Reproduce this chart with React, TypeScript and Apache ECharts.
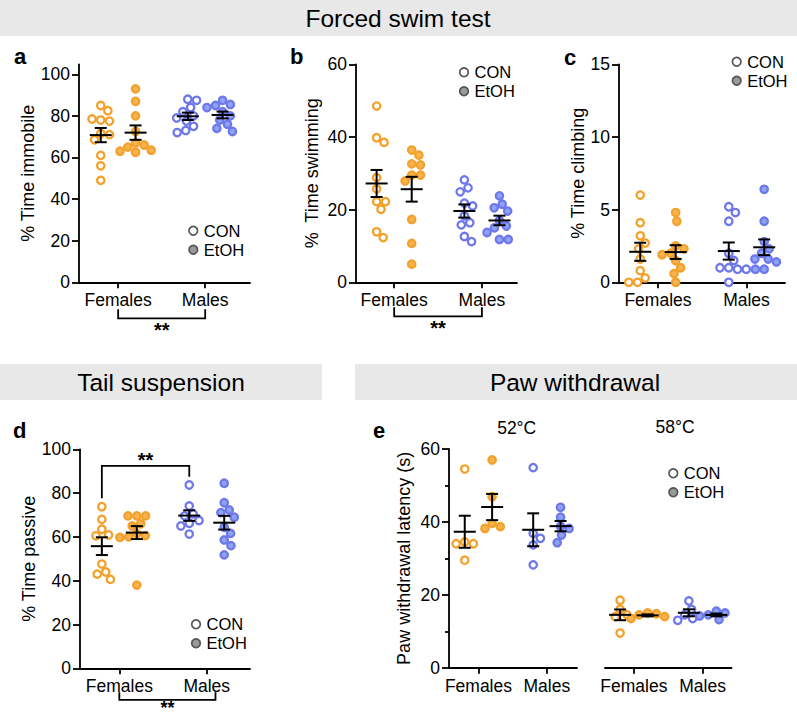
import React, { useEffect, useRef } from "react";
import * as echarts from "echarts";

// ---------- texts ----------
const sexLabels = ["Females", "Males"];
const legendLabels = ["CON", "EtOH"];
const headers = ["Forced swim test", "Tail suspension", "Paw withdrawal"];
const tempLabels = ["52°C", "58°C"];
const panelLetters = ["a", "b", "c", "d", "e"];

// ---------- tick values ----------
const ticksPercent = [0, 20, 40, 60, 80, 100];
const ticksSwim = [0, 20, 40, 60];
const ticksClimb = [0, 5, 10, 15];
const ticksPaw = [0, 20, 40, 60];
const sexTickValues = [1, 3];

// ---------- data (a) % time immobile ----------
const immobileFemCon = [85, 82.5, 78, 77.5, 78.5, 71.5, 71, 68.5, 61, 56, 49];
const immobileFemEtoh = [93, 87, 80, 72.5, 67, 66, 65, 63.5, 63, 62.5];
const immobileMaleCon = [88, 87.5, 84, 82, 80, 79, 77.5, 75, 73, 72];
const immobileMaleEtoh = [87.5, 85.5, 85, 84, 82, 80, 78, 76, 74, 72.5];
// ---------- data (b) % time swimming ----------
const swimFemCon = [48.5, 39.8, 38.5, 28.8, 25.7, 22.2, 22.2, 20.1, 13.9, 12.3];
const swimFemEtoh = [36.4, 35.0, 32.6, 32.3, 29.5, 29.5, 27.9, 17.3, 10.7, 5.0];
const swimMaleCon = [28.2, 26, 24.9, 21.8, 21, 18.3, 16.4, 15.8, 12.6, 11.2];
const swimMaleEtoh = [23.8, 21.5, 20.5, 19.6, 17.0, 15.5, 15.0, 13.7, 11.8, 11.8];
// ---------- data (c) % time climbing ----------
const climbFemCon = [6.0, 4.1, 3.2, 2.7, 2.3, 1.6, 0.8, 0.3, 0, 0];
const climbFemEtoh = [4.8, 4.2, 2.5, 2.3, 2.0, 1.9, 1.5, 1.0, 0.6, 0];
const climbMaleCon = [5.2, 4.8, 4.2, 2.0, 1.5, 1.0, 1.0, 0.9, 0.9, 0];
const climbMaleEtoh = [6.4, 4.2, 2.8, 2.3, 2.0, 1.6, 1.6, 1.4, 0.9, 0.9];
// ---------- data (d) % time passive ----------
const passiveFemCon = [73.8, 68, 63.5, 60.9, 60.5, 47.6, 44, 43, 40.6];
const passiveFemEtoh = [69.6, 69.6, 69.6, 66, 65, 61.5, 60.6, 60, 59.8, 38];
const passiveMaleCon = [83.7, 74.1, 70.5, 69.6, 67.5, 66.2, 65, 61.3];
const passiveMaleEtoh = [84.5, 75.6, 72.3, 71.1, 69, 64.4, 61.6, 58.6, 56, 51.8];
// ---------- data (e) paw withdrawal latency ----------
const paw52FemCon = [54.5, 34.5, 34, 34, 29.5];
const paw52FemEtoh = [57, 46.9, 39.6, 38.7, 38.2];
const paw52MaleCon = [54.9, 36.9, 35.5, 33.7, 28.2];
const paw52MaleEtoh = [44, 41.3, 38.8, 38.2, 36.4, 34.3];
const paw58FemCon = [18.5, 16, 14.5, 14, 9.5];
const paw58FemEtoh = [15, 14.8, 14.5, 14, 13.5];
const paw58MaleCon = [18.3, 16, 14.5, 13.5, 13];
const paw58MaleEtoh = [15.5, 15, 14.5, 14.2, 13.2];

// ---------- styles ----------
const FONT = "Liberation Sans";
const ORANGE = "#F4A12B";
const ORANGE_FILL = "#F7B452";
const BLUE = "#6F78EB";
const BLUE_FILL = "#8DA4F3";
const groupCenters = [0.6, 1.4, 2.6, 3.4];
const groupStyles = [
  { border: ORANGE, fill: "#ffffff" },
  { border: ORANGE, fill: ORANGE_FILL },
  { border: BLUE, fill: "#ffffff" },
  { border: BLUE, fill: BLUE_FILL },
];

type Lower = { x1: number; x2: number; v1: number; v2: number; t: number; fs: number };
type Panel = {
  left: number; top: number; width: number; height: number;
  xMin: number; xMax: number; yMin: number; yMax: number;
  ticks: number[]; interval: number; customTicks?: boolean; minor?: boolean;
  showY: boolean; yName: string; nameGap: number;
  groups: number[][];
  lower?: Lower; upper?: number[];
};

const panels: Panel[] = [
  { left: 79, top: 64.3, width: 171, height: 218, xMin: 0.1, xMax: 4.03, yMin: 0, yMax: 104.8,
    ticks: ticksPercent, interval: 20, customTicks: true, showY: true, yName: "% Time immobile", nameGap: 39,
    groups: [immobileFemCon, immobileFemEtoh, immobileMaleCon, immobileMaleEtoh],
    lower: { x1: 1, x2: 3, v1: 27, v2: 36, t: 47.5, fs: 20 } },
  { left: 356, top: 64.3, width: 161, height: 218, xMin: 0.13, xMax: 3.8, yMin: 0, yMax: 60,
    ticks: ticksSwim, interval: 20, showY: true, yName: "%  Time swimming", nameGap: 35,
    groups: [swimFemCon, swimFemEtoh, swimMaleCon, swimMaleEtoh],
    lower: { x1: 1, x2: 3, v1: 25, v2: 34, t: 46, fs: 20 } },
  { left: 619, top: 64.3, width: 166, height: 218, xMin: 0.12, xMax: 3.87, yMin: 0, yMax: 15,
    ticks: ticksClimb, interval: 5, showY: true, yName: "% Time climbing", nameGap: 29,
    groups: [climbFemCon, climbFemEtoh, climbMaleCon, climbMaleEtoh] },
  { left: 80, top: 449.3, width: 170, height: 219, xMin: 0.1, xMax: 3.99, yMin: 0, yMax: 100,
    ticks: ticksPercent, interval: 20, showY: true, yName: "% Time passive", nameGap: 39,
    groups: [passiveFemCon, passiveFemEtoh, passiveMaleCon, passiveMaleEtoh],
    lower: { x1: 1, x2: 3.2, v1: 24, v2: 31.5, t: 40, fs: 18 },
    upper: [0.6, 2.6, 92.4, 77.6, 87.5] },
  { left: 449, top: 449, width: 128, height: 218.7, xMin: 0.14, xMax: 3.88, yMin: 0, yMax: 60,
    ticks: ticksPaw, interval: 20, minor: true, showY: true, yName: "Paw withdrawal latency (s)", nameGap: 36,
    groups: [paw52FemCon, paw52FemEtoh, paw52MaleCon, paw52MaleEtoh] },
  { left: 605, top: 449, width: 126.5, height: 218.7, xMin: 0.16, xMax: 3.84, yMin: 0, yMax: 60,
    ticks: ticksPaw, interval: 20, showY: false, yName: "", nameGap: 0,
    groups: [paw58FemCon, paw58FemEtoh, paw58MaleCon, paw58MaleEtoh] },
];

function mean(v: number[]) { return v.reduce((a, b) => a + b, 0) / v.length; }
function sem(v: number[]) {
  const m = mean(v);
  const sd = Math.sqrt(v.reduce((a, b) => a + (b - m) * (b - m), 0) / (v.length - 1));
  return sd / Math.sqrt(v.length);
}

// beeswarm layout: horizontal pixel offsets so markers don't overlap
function swarm(vals: number[], pxPerY: number, D: number): number[] {
  const placed: { x: number; y: number }[] = [];
  return vals.map((v) => {
    const y = v * pxPerY;
    const ivs = placed
      .filter((p) => Math.abs(p.y - y) < D)
      .map((p) => { const dx = Math.sqrt(D * D - (p.y - y) * (p.y - y)); return [p.x - dx, p.x + dx]; });
    const cands = [0];
    ivs.forEach(([a, b]) => { cands.push(a, b); });
    cands.sort((a, b) => Math.abs(a) - Math.abs(b) || b - a);
    const x = cands.find((c) => ivs.every(([a, b]) => c <= a + 1e-6 || c >= b - 1e-6)) ?? 0;
    placed.push({ x, y });
    return x;
  });
}

const axisLineStyle = { color: "#000", width: 1.8 };

function buildOption() {
  const grid: any[] = [];
  const xAxis: any[] = [];
  const yAxis: any[] = [];
  const series: any[] = [];

  panels.forEach((p, i) => {
    grid.push({ left: p.left, top: p.top, width: p.width, height: p.height });
    xAxis.push({
      type: "value", gridIndex: i, min: p.xMin, max: p.xMax,
      axisLine: { show: true, lineStyle: axisLineStyle },
      axisTick: { show: true, length: 6, lineStyle: axisLineStyle, customValues: sexTickValues },
      axisLabel: {
        show: true, customValues: sexTickValues, margin: 9, fontSize: 17.5, color: "#000", fontFamily: FONT,
        formatter: (v: number) => (v < 2 ? sexLabels[0] : sexLabels[1]),
      },
      splitLine: { show: false },
    });
    const y: any = {
      type: "value", gridIndex: i, min: p.yMin, max: p.yMax, show: p.showY,
      name: p.yName, nameLocation: "middle", nameGap: p.nameGap, nameRotate: 90,
      nameTextStyle: { fontSize: 18, color: "#000", fontFamily: FONT },
      axisLine: { show: true, lineStyle: axisLineStyle },
      axisTick: { show: true, length: 7, lineStyle: axisLineStyle },
      axisLabel: { show: true, margin: 9, fontSize: 17.5, color: "#000", fontFamily: FONT },
      splitLine: { show: false },
    };
    if (p.customTicks) {
      y.axisTick.customValues = p.ticks;
      y.axisLabel.customValues = p.ticks;
    } else {
      y.interval = p.interval;
    }
    if (p.minor) {
      y.minorTick = { show: true, splitNumber: 2, length: 4, lineStyle: axisLineStyle };
    }
    yAxis.push(y);

    const pxPerY = p.height / (p.yMax - p.yMin);
    const pxPerX = p.width / (p.xMax - p.xMin);
    p.groups.forEach((vals, g) => {
      const offs = swarm(vals, pxPerY, 8.8);
      series.push({
        type: "scatter", xAxisIndex: i, yAxisIndex: i, z: 2,
        symbol: "circle", symbolSize: 7.4,
        itemStyle: { color: groupStyles[g].fill, borderColor: groupStyles[g].border, borderWidth: 2.3, opacity: 1 },
        data: vals.map((v, j) => [groupCenters[g] + offs[j] / pxPerX, v]),
        silent: true,
      });
    });

    // mean ± SEM
    series.push({
      type: "custom", xAxisIndex: i, yAxisIndex: i, z: 5, clip: false, silent: true,
      data: p.groups.map((vals, g) => [groupCenters[g], mean(vals), sem(vals)]),
      renderItem: (_params: any, api: any) => {
        const x = api.value(0), m = api.value(1), s = api.value(2);
        const c = api.coord([x, m]);
        const t = api.coord([x, m + s]);
        const b = api.coord([x, m - s]);
        const st = { stroke: "#000", lineWidth: 2 };
        return {
          type: "group",
          children: [
            { type: "line", shape: { x1: c[0] - 11, y1: c[1], x2: c[0] + 11, y2: c[1] }, style: st },
            { type: "line", shape: { x1: c[0], y1: t[1], x2: c[0], y2: b[1] }, style: st },
            { type: "line", shape: { x1: c[0] - 6, y1: t[1], x2: c[0] + 6, y2: t[1] }, style: st },
            { type: "line", shape: { x1: c[0] - 6, y1: b[1], x2: c[0] + 6, y2: b[1] }, style: st },
          ],
        };
      },
    });

    if (p.lower) {
      const L = p.lower;
      series.push({
        type: "custom", xAxisIndex: i, yAxisIndex: i, z: 5, clip: false, silent: true,
        data: [[L.x1, L.x2, p.yMin]],
        renderItem: (_params: any, api: any) => {
          const a = api.coord([api.value(0), api.value(2)]);
          const b = api.coord([api.value(1), api.value(2)]);
          const y0 = a[1];
          return {
            type: "group",
            children: [
              { type: "polyline", shape: { points: [[a[0], y0 + L.v1], [a[0], y0 + L.v2], [b[0], y0 + L.v2], [b[0], y0 + L.v1]] },
                style: { stroke: "#000", lineWidth: 1.8, fill: null } },
              { type: "text", x: (a[0] + b[0]) / 2, y: y0 + L.t,
                style: { text: "**", fontSize: L.fs, fontWeight: "bold", fontFamily: FONT, fill: "#000", align: "center", verticalAlign: "middle" } },
            ],
          };
        },
      });
    }
    if (p.upper) {
      series.push({
        type: "custom", xAxisIndex: i, yAxisIndex: i, z: 5, clip: false, silent: true,
        data: [p.upper],
        renderItem: (_params: any, api: any) => {
          const x1 = api.value(0), x2 = api.value(1);
          const top = api.coord([x1, api.value(2)]);
          const l = api.coord([x1, api.value(3)]);
          const r = api.coord([x2, api.value(4)]);
          const rt = api.coord([x2, api.value(2)]);
          return {
            type: "group",
            children: [
              { type: "polyline", shape: { points: [[l[0], l[1]], [top[0], top[1]], [rt[0], rt[1]], [r[0], r[1]]] },
                style: { stroke: "#000", lineWidth: 1.8, fill: null } },
              { type: "text", x: (top[0] + rt[0]) / 2, y: top[1] - 5.5,
                style: { text: "**", fontSize: 20, fontWeight: "bold", fontFamily: FONT, fill: "#000", align: "center", verticalAlign: "middle" } },
            ],
          };
        },
      });
    }
  });

  const graphic: any[] = [];
  const headerBoxes = [
    { x: 0, y: 0, w: 797, h: 36, cx: 398, cy: 18 },
    { x: 0, y: 364, w: 322, h: 36, cx: 161, cy: 382 },
    { x: 355, y: 364, w: 442, h: 36, cx: 575, cy: 382 },
  ];
  headerBoxes.forEach((h, k) => {
    graphic.push({ type: "rect", silent: true, shape: { x: h.x, y: h.y, width: h.w, height: h.h }, style: { fill: "#e8e8e8" } });
    graphic.push({ type: "text", silent: true, x: h.cx, y: h.cy,
      style: { text: headers[k], fontSize: 24.5, fontFamily: FONT, fill: "#000", align: "center", verticalAlign: "middle" } });
  });
  const letterPos = [[14, 56], [290, 56], [564, 57], [13, 430], [373, 430]];
  letterPos.forEach(([x, y], k) => {
    graphic.push({ type: "text", silent: true, x, y,
      style: { text: panelLetters[k], fontSize: 22, fontWeight: "bold", fontFamily: FONT, fill: "#000", align: "left", verticalAlign: "middle" } });
  });
  const legendPos = [[193.3, 230.7], [464, 72.3], [736.7, 61.7], [196, 624.3], [673.3, 473.3]];
  legendPos.forEach(([x, y]) => {
    [0, 1].forEach((k) => {
      const cy = y + k * 19;
      graphic.push({ type: "circle", silent: true, shape: { cx: x, cy, r: 4.3 },
        style: { fill: k === 0 ? "#ffffff" : "#9a9a9a", stroke: "#555", lineWidth: 1.7 } });
      graphic.push({ type: "text", silent: true, x: x + 10.5, y: cy,
        style: { text: legendLabels[k], fontSize: 16.5, fontFamily: FONT, fill: "#000", align: "left", verticalAlign: "middle" } });
    });
  });
  const tempPos = [[516.7, 428.3], [675, 427]];
  tempPos.forEach(([x, y], k) => {
    graphic.push({ type: "text", silent: true, x, y,
      style: { text: tempLabels[k], fontSize: 17.5, fontFamily: FONT, fill: "#000", align: "center", verticalAlign: "middle" } });
  });

  return {
    animation: false,
    backgroundColor: "#ffffff",
    textStyle: { fontFamily: FONT },
    grid, xAxis, yAxis, series, graphic,
  };
}

export default function App() {
  const ref = useRef<HTMLDivElement>(null);
  useEffect(() => {
    if (!ref.current) return;
    const chart = echarts.init(ref.current, undefined, { renderer: "svg" });
    chart.setOption(buildOption() as any);
    return () => chart.dispose();
  }, []);
  return <div ref={ref} style={{ position: "fixed", left: 0, top: 0, width: 797, height: 719 }} />;
}
